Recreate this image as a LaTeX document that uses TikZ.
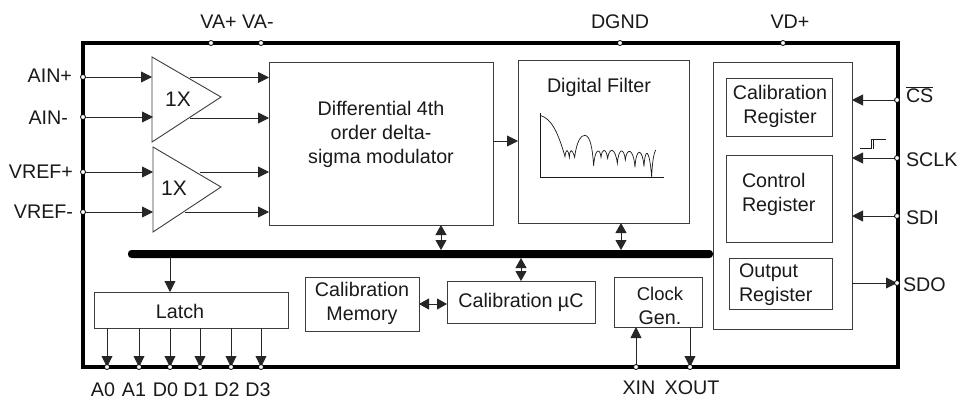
\documentclass[tikz,border=0pt]{standalone}
\usepackage{fontspec}
\setmainfont{Liberation Sans}
\usetikzlibrary{arrows.meta}
\definecolor{ink}{HTML}{1A1A1A}
\definecolor{edge}{HTML}{3C3C3C}
\tikzset{
  x=1pt,y=-1pt,
  every node/.style={text=ink,font=\fontsize{19.7}{24}\selectfont,inner sep=0pt,outer sep=0pt},
  blk/.style={draw=edge,line width=1pt,fill=white},
  pin/.style={circle,draw=black,fill=white,line width=.8pt,minimum size=5pt},
  sig/.style={draw=black!85,line width=.9pt,-{Triangle[length=11pt,width=11pt]}},
  dbl/.style={draw=black!85,line width=.9pt,{Triangle[length=10pt,width=11pt]}-{Triangle[length=10pt,width=11pt]}},
  amp/.style={draw=edge,line width=.9pt,fill=white},
  lbl/.style={align=center},
  crv/.style={draw=ink,line width=.7pt},
}
\begin{document}
\begin{tikzpicture}
\useasboundingbox (0,0) rectangle (959,400);
\fill[white] (0,0) rectangle (959,400);
% outer frame
\node[draw=black,line width=4.2pt,minimum width=815pt,minimum height=324pt] (frame) at (490.5,205) {};
% blocks
\node[blk,minimum width=224pt,minimum height=163pt] (mod) at (381,143.5) {};
\node[blk,minimum width=171pt,minimum height=163pt] (filt) at (603.5,141.5) {};
\node[blk,minimum width=139pt,minimum height=267pt] (regs) at (782.5,195.5) {};
\node[blk,minimum width=106pt,minimum height=58pt] (calreg) at (779,107) {};
\node[blk,minimum width=106pt,minimum height=87pt] (ctlreg) at (779,198.5) {};
\node[blk,minimum width=103pt,minimum height=51pt] (outreg) at (780.5,283.5) {};
\node[blk,minimum width=194pt,minimum height=36pt] (latch) at (191,310) {};
\node[blk,minimum width=114pt,minimum height=54pt] (calmem) at (362,304) {};
\node[blk,minimum width=148pt,minimum height=42pt] (calmu) at (521,302) {};
\node[blk,minimum width=88pt,minimum height=50pt] (clock) at (658,302) {};
\node[fill=black,rounded corners=3.5pt,minimum width=585pt,minimum height=8pt] (bus) at (420.5,254) {};
% pins
\foreach \n/\x/\y in {pVAp/211/43,pVAm/261/43,pDGND/620/43,pVD/783/43,
  pAINp/83/77,pAINm/83/117,pREFp/83/172,pREFm/83/212,
  pCS/897/100,pSCLK/897/158,pSDI/897/216,pSDO/897/283,
  pA0/107/367,pA1/139/367,pD0/170/367,pD1/200/367,pD2/231/367,pD3/261/367,
  pXIN/636/367,pXOUT/690/367}
  {\coordinate (\n c) at (\x,\y);}
% helper points
\coordinate (a1) at (152,77);
\coordinate (a2) at (153,117);
\coordinate (a3) at (153,172);
\coordinate (a4) at (153,212);
\coordinate (o1) at (190,77.5);
\coordinate (o2) at (190,118);
\coordinate (o3) at (200,172);
\coordinate (o4) at (185,212);
\coordinate (dA) at (441,254);
\coordinate (dB) at (621,254);
\coordinate (dC) at (521,254);
\coordinate (dL) at (170,254);
% amplifiers
\draw[amp] (152,57) -- (221,97) -- (152,142) -- cycle;
\draw[amp] (153,147) -- (221,187) -- (153,232) -- cycle;
% input connectors
\draw[sig] (pAINpc) -- (a1);
\draw[sig] (pAINmc) -- (a2);
\draw[sig] (pREFpc) -- (a3);
\draw[sig] (pREFmc) -- (a4);
\draw[sig] (o1) -- (o1 -| mod.west);
\draw[sig] (o2) -- (o2 -| mod.west);
\draw[sig] (o3) -- (o3 -| mod.west);
\draw[sig] (o4) -- (o4 -| mod.west);
\node (amp1txt) at (178,99) {\fontsize{21}{24}\selectfont 1X};
\node (amp2txt) at (174,188) {\fontsize{21}{24}\selectfont 1X};
% other connectors
\coordinate (fo) at (493,141);
\draw[sig] (mod.east |- fo) -- (filt.west |- fo);
\draw[dbl] (mod.south -| dA) -- (dA |- bus.north);
\draw[dbl] (filt.south -| dB) -- (dB |- bus.north);
\draw[dbl] (dC |- bus.south) -- (dC |- calmu.north);
\draw[dbl] (calmem.east) -- (calmu.west |- calmem.east);
\draw[sig] (dL |- bus.south) -- (dL |- latch.north);
\foreach \p in {pA0c,pA1c,pD0c,pD1c,pD2c,pD3c}
  \draw[sig] (latch.south -| \p) -- (\p);
\draw[sig] (pXINc) -- (pXINc |- clock.south);
\draw[sig] (clock.south -| pXOUTc) -- (pXOUTc);
\draw[sig] (pCSc) -- (pCSc -| regs.east);
\draw[sig] (pSCLKc) -- (pSCLKc -| regs.east);
\draw[sig] (pSDIc) -- (pSDIc -| regs.east);
\draw[sig] (regs.east |- pSDOc) -- (pSDOc);
% pin circles
\foreach \n in {pVAp,pVAm,pDGND,pVD,pAINp,pAINm,pREFp,pREFm,pCS,pSCLK,pSDI,pSDO,pA0,pA1,pD0,pD1,pD2,pD3,pXIN,pXOUT}
  \node[pin] (\n) at (\n c) {};
% clock step symbol
\draw[ink,line width=.8pt] (860,148.5) -- (871,148.5) -- (871,139) -- (886,139);
\draw[ink,line width=.8pt] (873,148.5) -- (873,139);
% filter response
\begin{scope}[shift={(510,50)},x=.33333pt,y=-.33333pt]
\draw[crv] (90,190) -- (90,381) -- (463,381);
\draw[crv] (90,196) .. controls (125,205) and (145,250) .. (165,320)
  .. controls (168,295) and (174,295) .. (178,322)
  .. controls (180,295) and (186,295) .. (194,322)
  .. controls (200,270) and (215,255) .. (225,256)
  .. controls (240,258) and (247,290) .. (251,348)
  .. controls (254,295) and (270,292) .. (273,322)
  .. controls (276,295) and (288,292) .. (293,325)
  .. controls (298,290) and (316,292) .. (322,340)
  .. controls (326,292) and (342,292) .. (346,330)
  .. controls (350,292) and (370,292) .. (375,352)
  .. controls (378,292) and (397,292) .. (402,350)
  .. controls (405,292) and (418,292) .. (425,381)
  .. controls (427,330) and (432,310) .. (437,300);
\end{scope}
% text
\node[lbl] (tmod) at (381,134) {Differential 4th\\order delta-\\sigma modulator};
\node (tfilt) at (599,87) {Digital Filter};
\node[lbl] (tcal) at (780,106.5) {Calibration\\Register};
\node[align=left,anchor=west] (tctl) at (742,194.5) {Control\\Register};
\node[align=left,anchor=west] (tout) at (739,285) {\fontsize{19.7}{22}\selectfont Output\\Register};
\node (tlatch) at (180,311) {Latch};
\node[lbl] (tmem) at (362,303) {Calibration\\Memory};
\node (tmu) at (521,302) {Calibration µC};
\node[lbl] (tclk) at (660,305.5) {\fontsize{18.5}{21}\selectfont Clock\\Gen.};
% pin labels
\node (lVA) at (237,21.5) {VA+ VA-};
\node (lDGND) at (620,21.5) {DGND};
\node (lVD) at (790,21.5) {VD+};
\node[anchor=east] (lAINp) at (72,76) {AIN+};
\node[anchor=east] (lAINm) at (68,118) {AIN-};
\node[anchor=east] (lREFp) at (73,172) {VREF+};
\node[anchor=east] (lREFm) at (73,212) {VREF-};
\node[anchor=west] (lCS) at (906,95) {$\overline{\mbox{CS}}$};
\node[anchor=west] (lSCLK) at (906,160) {SCLK};
\node[anchor=west] (lSDI) at (906,218) {SDI};
\node[anchor=west] (lSDO) at (903,285) {SDO};
\node (lA0) at (103,389.5) {A0};
\node (lA1) at (134,389.5) {A1};
\node (lD0) at (165.5,389.5) {D0};
\node (lD1) at (196,389.5) {D1};
\node (lD2) at (227,389.5) {D2};
\node (lD3) at (258,389.5) {D3};
\node (lXIN) at (639,387.5) {XIN};
\node (lXOUT) at (692,387.5) {XOUT};
\end{tikzpicture}
\end{document}
